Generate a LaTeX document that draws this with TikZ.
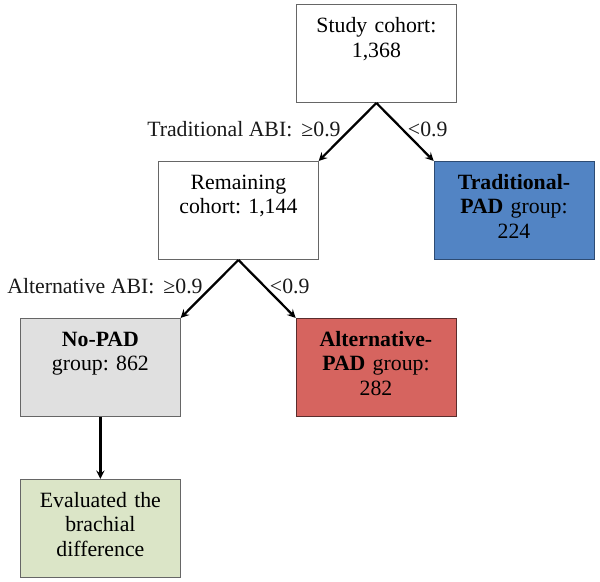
\documentclass[tikz,border=0pt]{standalone}
\usepackage{fontspec}
\setmainfont{Liberation Serif}
\usepackage{tikz}
\usetikzlibrary{positioning}
\frenchspacing

\definecolor{padblue}{RGB}{82,132,196}
\definecolor{padblueline}{RGB}{45,75,115}
\definecolor{padred}{RGB}{214,100,95}
\definecolor{padredline}{RGB}{90,45,45}
\definecolor{nopadgray}{RGB}{224,224,224}
\definecolor{evalgreen}{RGB}{219,229,199}

\begin{document}
\begin{tikzpicture}[node distance = 1.45cm,
box/.style={rectangle, draw=black!60, thin, anchor=north, minimum width=4cm, text width=3.7cm, align=center, inner xsep=4pt, inner ysep=8pt, text height=12pt, text depth=42pt, font=\fontsize{15.5}{17.5}\selectfont},
path/.style={->,>=stealth,line width=1.6pt},
lbl/.style={font=\fontsize{15.5}{17.5}\selectfont, text=black!90},
]

\useasboundingbox (0,0) rectangle (15,-14.55);

%Nodes
\node [box] (study) at (9.41,-0.1) {Study cohort:\\1,368};
\node [box, xshift=-3.45cm] (remain) [below = of study] {Remaining\\cohort: 1,144};
\node [box, fill=padblue, draw=padblueline] (trad) [right = 2.875cm of remain] {\textbf{Traditional-}\\\textbf{PAD} group:\\224};
\node [box, xshift=-3.45cm, fill=nopadgray] (nopad) [below = of remain] {\textbf{No-PAD}\\group: 862};
\node [box, fill=padred, draw=padredline] (altpad) [right = 2.875cm of nopad] {\textbf{Alternative-}\\\textbf{PAD} group:\\282};
\node [box, fill=evalgreen] (eval) [below = 1.55cm of nopad] {Evaluated the\\brachial\\difference};

% Paths
\draw [path] (study.south) to node[lbl, pos=0.45, left, xshift=-1mm] {Traditional ABI: \,≥0.9} (remain.north east);
\draw [path] (study.south) to node[lbl, pos=0.45, right] {<0.9} (trad.north west);
\draw [path] (remain.south) to node[lbl, pos=0.45, left, xshift=-1mm] {Alternative ABI: \,≥0.9} (nopad.north east);
\draw [path] (remain.south) to node[lbl, pos=0.45, right] {<0.9} (altpad.north west);
\draw [path] (nopad) to (eval);
\end{tikzpicture}
\end{document}
